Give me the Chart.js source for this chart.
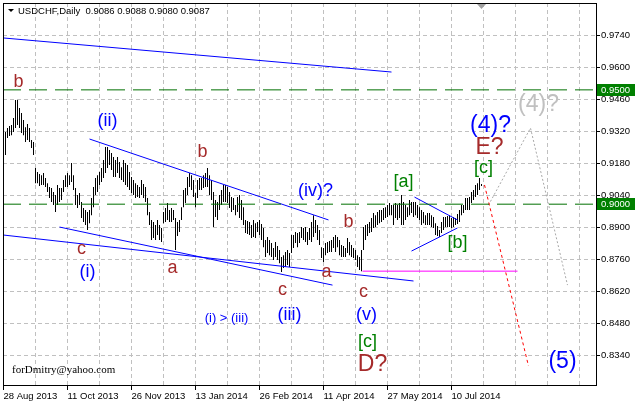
<!DOCTYPE html>
<html lang="en">
<head>
    <meta charset="UTF-8">
    <title>USDCHF Daily</title>
    <script src="https://cdn.jsdelivr.net/npm/chart.js"></script>
    <style>
        html, body { margin: 0; padding: 0; background: #fff; }
    </style>
</head>
<body>
    <canvas id="myChart" width="635" height="403"></canvas>

    <script>
        // Daily bars, one per trading day from 28 Aug 2013
        const highs = [
            .9316,.9333,.9342,.9346,.9377,.9456,.9456,.9421,.9399,.9368,
            .9337,.9351,.9333,.9281,.9272,.9158,.9141,.9132,.9127,.9136,
            .9114,.9092,.9075,.9071,.9053,.9040,.9084,.9071,.9071,.9106,
            .9127,.9136,.9127,.9180,.9127,.9071,.9040,.9049,.9009,.8983,
            .8974,.8966,.8974,.9027,.9075,.9114,.9127,.9141,.9158,.9193,
            .9250,.9250,.9237,.9224,.9206,.9193,.9206,.9184,
            .9162,.9193,.9180,.9171,.9141,.9119,.9106,.9092,.9084,.9075,
            .9106,.9088,.9075,.9027,.8966,.8931,.8922,.8909,.8931,.8909,
            .8896,.8966,.8983,.9005,.8974,.8983,.8974,.8939,.8922,.8931,
            .8987,.9062,.9071,.9119,.9136,.9127,.9106,.9049,.9106,.9114,
            .9114,.9127,.9136,.9158,.9127,.9106,.9053,.9018,.9009,.9040,
            .9062,.9084,.9084,.9075,.9053,.9031,.9027,.8996,.9031,.9040,
            .9018,.8987,
            .8931,.8926,.8922,.8909,.8931,.8917,.8922,.8931,.8913,.8896,
            .8843,.8856,.8843,.8830,.8808,.8834,.8817,.8799,.8769,.8777,
            .8791,.8799,.8786,.8865,.8865,.8878,.8874,.8878,.8900,.8896,
            .8900,.8878,.8896,.8922,.8952,.8931,.8909,.8887,.8812,.8808,
            .8830,.8834,.8839,.8843,.8856,.8865,.8856,.8843,.8821,.8817,
            .8808,.8852,.8834,.8821,.8808,.8799,.8777,.8769,.8799,
            .8900,.8909,.8913,.8922,.8939,.8961,.8952,.8966,.8974,.8974,
            .8983,.8987,.8996,.9005,.8996,.8996,.9005,.8996,.9005,.9040,
            .9009,.8996,.8987,.9018,.9009,.9009,.9009,.8996,.8987,.8974,
            .8966,.8952,.8961,.8961,.8952,.8944,.8917,.8904,.8887,.8922,
            .8944,.8944,.8948,.8952,.8939,.8944,.8939,.8957,.8974,.8996,
            .8996,.9027,.9027,.9031,.9053,.9062,.9084,.9092,.9114,.9088
        ];
        const lows = [
            .9215,.9289,.9298,.9302,.9316,.9333,.9346,.9333,.9311,.9302,
            .9272,.9281,.9272,.9246,.9215,.9092,.9092,.9079,.9084,.9084,
            .9075,.9053,.9027,.9009,.8996,.8966,.8996,.9009,.9018,.9053,
            .9075,.9075,.9084,.9097,.9062,.8996,.8983,.8996,.8939,.8922,
            .8909,.8887,.8917,.8952,.8987,.9040,.9053,.9084,.9097,.9114,
            .9136,.9158,.9171,.9149,.9119,.9119,.9136,.9114,
            .9106,.9097,.9084,.9075,.9062,.9049,.9040,.9027,.9031,.9027,
            .9040,.9027,.9009,.8952,.8909,.8843,.8852,.8843,.8865,.8843,
            .8834,.8917,.8922,.8931,.8922,.8922,.8931,.8799,.8861,.8878,
            .8931,.8987,.9005,.9040,.9075,.9062,.9031,.8987,.9027,.9062,
            .9062,.9071,.9075,.9075,.9040,.9018,.8900,.8944,.8931,.8974,
            .8996,.9009,.9009,.9005,.8983,.8966,.8974,.8952,.8966,.8939,
            .8931,.8909,
            .8874,.8869,.8865,.8852,.8856,.8852,.8878,.8865,.8843,.8812,
            .8769,.8786,.8777,.8769,.8756,.8769,.8756,.8742,.8703,.8721,
            .8725,.8734,.8725,.8786,.8808,.8830,.8812,.8830,.8852,.8843,
            .8834,.8821,.8843,.8834,.8856,.8874,.8843,.8821,.8764,.8747,
            .8777,.8786,.8791,.8791,.8808,.8791,.8812,.8777,.8769,.8769,
            .8769,.8786,.8777,.8769,.8764,.8756,.8725,.8712,.8707,
            .8799,.8843,.8861,.8874,.8878,.8896,.8900,.8909,.8917,.8922,
            .8931,.8939,.8944,.8952,.8952,.8909,.8939,.8931,.8939,.8909,
            .8909,.8931,.8944,.8952,.8961,.8944,.8952,.8939,.8931,.8909,
            .8917,.8909,.8909,.8909,.8900,.8896,.8865,.8861,.8856,.8874,
            .8887,.8900,.8900,.8900,.8896,.8900,.8909,.8913,.8922,.8952,
            .8961,.8974,.8974,.8974,.9005,.9018,.9031,.9040,.9062,.9080
        ];

        const lastOhlc = [0.9086, 0.9088, 0.9080, 0.9087];
        const dateLabels = ['28 Aug 2013', '11 Oct 2013', '26 Nov 2013', '13 Jan 2014',
                            '26 Feb 2014', '11 Apr 2014', '27 May 2014', '10 Jul 2014'];
        const priceTicks = [0.9740, 0.9600, 0.9460, 0.9320, 0.9180, 0.9040,
                            0.8900, 0.8760, 0.8620, 0.8480, 0.8340];
        const levels = [0.9500, 0.9000];

        // trend lines, [bar, price] pairs
        const channelLines = [
            [[-1, 0.9727], [193, 0.9578]],
            [[42, 0.9285], [161.5, 0.8931]],
            [[-1, 0.8865], [204, 0.8664]],
            [[27, 0.8900], [163.5, 0.8646]],
            [[204.5, 0.9031], [226, 0.8931]],
            [[203, 0.8795], [226, 0.8896]]
        ];
        const supportLine = [[178.5, 0.8707], [256, 0.8707]];
        const redPath = [[239.5, 0.9084], [261.5, 0.8292]];
        const greyPath = [[241.5, 0.8996], [262.5, 0.9333], [281, 0.8646]];

        // wave marks: text, bar, price, kind
        const waveMarks = [
            ['b', 6.5, 0.9534, 'minor'],
            ['(ii)', 51, 0.9364, 'inter'],
            ['b', 98.5, 0.9228, 'minor'],
            ['(iv)?', 155, 0.9057, 'inter'],
            ['b', 171.5, 0.8922, 'minor'],
            ['[a]', 199, 0.9097, 'sub'],
            ['[b]', 226, 0.8830, 'sub'],
            ['[c]', 239, 0.9158, 'sub'],
            ['E?', 242, 0.9246, 'major'],
            ['(4)?', 242.5, 0.9342, 'primary'],
            ['(4)?', 266.5, 0.9434, 'alt'],
            ['c', 38, 0.8804, 'minor'],
            ['(i)', 41, 0.8703, 'inter'],
            ['a', 83.5, 0.8721, 'minor'],
            ['(i) > (iii)', 110.5, 0.8502, 'note'],
            ['c', 138.5, 0.8624, 'minor'],
            ['(iii)', 142, 0.8515, 'inter'],
            ['a', 160.5, 0.8703, 'minor'],
            ['c', 179, 0.8616, 'minor'],
            ['(v)', 180.5, 0.8515, 'inter'],
            ['[c]', 181, 0.8397, 'sub'],
            ['D?', 183.5, 0.8296, 'major'],
            ['(5)', 278.5, 0.8309, 'primary']
        ];

        const markStyle = {
            minor:   { color: '#a52a2a', size: 18 },
            major:   { color: '#a52a2a', size: 23 },
            inter:   { color: '#0000ff', size: 18 },
            primary: { color: '#0000ff', size: 23 },
            sub:     { color: '#008000', size: 18 },
            alt:     { color: '#c0c0c0', size: 23 },
            note:    { color: '#0000ff', size: 13 }
        };

        const axisFont = { family: 'Liberation Sans', size: 9.5 };
        const xMin = -1.25, xMax = 295.25;

        const toPts = arr => arr.map(p => ({ x: p[0], y: p[1] }));
        const lineSet = (pts, color, dash) => ({
            type: 'line',
            data: toPts(pts),
            borderColor: color,
            borderWidth: 1,
            borderDash: dash || [],
            pointRadius: 0,
            tension: 0,
            order: 1
        });

        const datasets = [{
            type: 'bar',
            data: highs.map((h, i) => ({ x: i, y: [lows[i], h] })),
            backgroundColor: '#000',
            borderWidth: 0,
            barThickness: 1,
            inflateAmount: 0,
            order: 2
        }];
        levels.forEach(v => datasets.push(lineSet([[xMin, v], [xMax, v]], '#007000', [18, 8])));
        channelLines.forEach(l => datasets.push(lineSet(l, '#0000ff')));
        datasets.push(lineSet(supportLine, '#ff00ff'));
        datasets.push(lineSet(redPath, '#ff0000', [3, 3]));
        datasets.push(lineSet(greyPath, '#a8a8a8', [2, 2]));

        // frame, price boxes, wave marks and header text
        const overlay = {
            id: 'overlay',
            afterDatasetsDraw(chart) {
                const { ctx, chartArea: a, scales: { x, y } } = chart;
                ctx.save();
                ctx.strokeStyle = '#000';
                ctx.lineWidth = 1;
                ctx.strokeRect(a.left + 0.5, a.top + 0.5, a.right - a.left, a.bottom - a.top);

                // shift marker
                const sx = Math.round(x.getPixelForValue(highs.length - 1));
                ctx.fillStyle = '#a0a0a0';
                ctx.beginPath();
                ctx.moveTo(sx - 4, a.top + 1);
                ctx.lineTo(sx + 5, a.top + 1);
                ctx.lineTo(sx + 0.5, a.top + 6);
                ctx.closePath();
                ctx.fill();

                // level price boxes
                ctx.font = '9.5px "Liberation Sans"';
                ctx.textAlign = 'left';
                ctx.textBaseline = 'middle';
                levels.forEach(v => {
                    const py = Math.round(y.getPixelForValue(v));
                    ctx.fillStyle = '#008000';
                    ctx.fillRect(a.right + 1, py - 6, 38, 12);
                    ctx.fillStyle = '#fff';
                    ctx.fillText(v.toFixed(4), a.right + 5, py + 0.5);
                });

                // wave labels
                ctx.textAlign = 'center';
                waveMarks.forEach(([t, bx, p, kind]) => {
                    const st = markStyle[kind];
                    ctx.font = st.size + 'px "Liberation Sans"';
                    ctx.fillStyle = st.color;
                    ctx.fillText(t, x.getPixelForValue(bx), y.getPixelForValue(p));
                });

                // header
                ctx.fillStyle = '#000';
                ctx.beginPath();
                ctx.moveTo(8, 9);
                ctx.lineTo(14, 9);
                ctx.lineTo(11, 12);
                ctx.closePath();
                ctx.fill();
                ctx.textAlign = 'left';
                ctx.font = '9.5px "Liberation Sans"';
                ctx.fillText('USDCHF,Daily  ' + lastOhlc.map(v => v.toFixed(4)).join(' '), 18, 11);
                ctx.font = '11px "Liberation Serif"';
                ctx.fillText('forDmitry@yahoo.com', 12, 370);
                ctx.restore();
            }
        };

        const config = {
            type: 'bar',
            data: { datasets },
            options: {
                responsive: false,
                animation: false,
                devicePixelRatio: 1,
                layout: { padding: { left: 3, top: 3, right: 0, bottom: 0 } },
                plugins: {
                    legend: { display: false },
                    tooltip: { enabled: false }
                },
                scales: {
                    x: {
                        type: 'linear',
                        offset: false,
                        min: xMin,
                        max: xMax,
                        afterBuildTicks: s => {
                            s.ticks = [];
                            for (let v = -1; v <= 295; v += 16) s.ticks.push({ value: v });
                        },
                        afterFit: s => {
                            s.height = 18;
                            s.paddingLeft = 0;
                            s.paddingRight = 0;
                        },
                        ticks: {
                            autoSkip: false,
                            maxRotation: 0,
                            align: 'start',
                            padding: 1,
                            color: '#000',
                            font: axisFont,
                            callback: v => ((v + 1) % 32 === 0 ? (dateLabels[(v + 1) / 32] || '') : '')
                        },
                        grid: {
                            offset: false,
                            color: '#c0c0c0',
                            tickLength: 5,
                            tickColor: c => ((c.tick && (c.tick.value + 1) % 32 === 0 && c.tick.value < 240) ? '#000' : 'rgba(0,0,0,0)')
                        },
                        border: { display: false, dash: [4, 3] }
                    },
                    y: {
                        position: 'right',
                        min: 0.8209,
                        max: 0.9880,
                        afterBuildTicks: s => { s.ticks = priceTicks.map(v => ({ value: v })); },
                        afterFit: s => {
                            s.width = 39;
                            s.paddingTop = 0;
                            s.paddingBottom = 0;
                        },
                        ticks: {
                            padding: 1,
                            color: '#000',
                            font: axisFont,
                            callback: v => v.toFixed(4)
                        },
                        grid: { color: '#c0c0c0', tickLength: 4, tickColor: '#000' },
                        border: { display: false, dash: [4, 3] }
                    }
                }
            },
            plugins: [overlay]
        };

        const myChart = new Chart(document.getElementById('myChart'), config);
    </script>
</body>
</html>
